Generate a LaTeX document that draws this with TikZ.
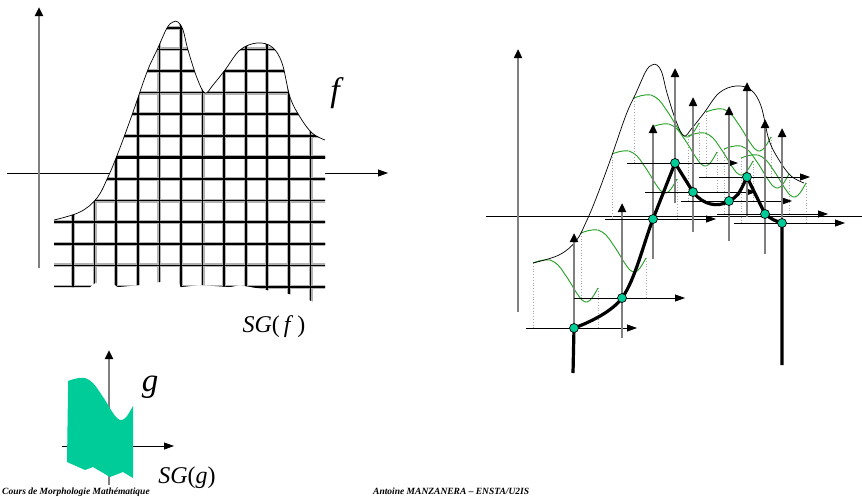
\documentclass[tikz,border=0pt]{standalone}
\usepackage{fontspec}
\setmainfont{Liberation Serif}
\usetikzlibrary{arrows.meta}
\definecolor{sgteal}{RGB}{0,204,153}
\definecolor{sggreen}{RGB}{34,160,34}
\definecolor{axisgray}{RGB}{128,128,128}

% the function f and the top of the structuring function g
\newcommand\fgraph{plot[smooth,tension=0.6] coordinates {(54,220) (80,212) (97,198) (108,177) (118,153) (132,115) (147,72) (157,50) (167,28) (173,22) (178,22) (183,30) (188,50) (197,78) (205,93) (213,85) (225,70) (240,50) (257,43) (272,47) (282,63) (290,97) (300,117) (312,133) (325,140)}}
\newcommand\gtop{plot[smooth,tension=0.6] coordinates {(-41,-65) (-33,-67.5) (-24,-68) (-16,-63) (-10,-55) (-4,-46) (2,-36) (8,-28) (13,-26) (18,-30) (24,-40)}}

\tikzset{
  sgbottom/.style={insert path={-- (325,307) -- (300,296) -- (267,290) -- (240,285) -- (230,287) -- (200,285) -- (181,287) -- (178,281) -- (160,282) -- (140,285) -- (118,287) -- (115,285) -- (95,283) -- (90,287) -- (54,287) -- cycle}},
  plainaxis/.style={black,line width=0.8pt,-{Triangle[length=10pt,width=7pt]}},
  grayaxis/.style={axisgray,line width=2.4pt,-{Triangle[length=9pt,width=8pt,color=black]}},
  sharrow/.style={black,line width=0.8pt,-{Triangle[length=10pt,width=7pt]}},
  gridhalo/.style={gray!60,line width=4pt},
  gridcore/.style={black,line width=1.7pt},
  fcurve/.style={black,line width=0.7pt},
  gcurve/.style={sggreen,line width=0.9pt},
  drop/.style={gray!70,line width=0.8pt,dotted},
  erode/.style={black,line width=3.2pt,line join=round},
  contact/.style={circle,draw=black,fill=sgteal,line width=0.7pt,inner sep=0pt,minimum size=9pt},
  biglabel/.style={anchor=base,font=\itshape\fontsize{34}{34}\selectfont},
  sglabel/.style={anchor=base,inner sep=0pt,font=\fontsize{24}{24}\selectfont},
  footer/.style={anchor=base west,inner sep=0pt,font=\bfseries\itshape\fontsize{9.5}{9.5}\selectfont}
}

\begin{document}
\begin{tikzpicture}[x=1pt,y=-1pt]
\useasboundingbox (0,0) rectangle (862,496);
\clip (0,0) rectangle (862,496);

% f and SG(f)
\draw[plainaxis] (7,173) -- (388,173);
\draw[grayaxis] (39,268) -- (39,7);
\fill[white] \fgraph [sgbottom];
\begin{scope}
\clip \fgraph [sgbottom];
\foreach \i in {0,...,11} \draw[gridhalo] ({73+21.6*\i},10) -- ({73+21.6*\i},320);
\foreach \i in {0,...,12} \draw[gridhalo] (40,{287-21.6*\i}) -- (340,{287-21.6*\i});
\foreach \i in {0,...,11} \draw[gridcore] ({73+21.6*\i},10) -- ({73+21.6*\i},320);
\foreach \i in {0,...,12} \draw[gridcore] (40,{287-21.6*\i}) -- (340,{287-21.6*\i});
\draw[black,line width=2.4pt] (181,10) -- (181,320) (267,10) -- (267,320);
\draw[black,line width=2.4pt] (40,157.4) -- (340,157.4) (40,243.8) -- (340,243.8);
\end{scope}
\draw[fcurve] \fgraph;
\node[biglabel] (flabel) at (335,101) {f};
\node[sglabel] (sgf) at (274,332) {\textit{SG}(\,\textit{f}\,)};

% g and SG(g)
\draw[plainaxis] (62,446) -- (174,446);
\draw[grayaxis] (109,485) -- (109,350);
\fill[sgteal,shift={(109,446)}] \gtop -- (24,32) -- (14,26) -- (1,31) -- (-16,21) -- (-24,24) -- (-42,16) -- (-41,-55) -- cycle;
\node[biglabel,font=\itshape\fontsize{33}{33}\selectfont] (glabel) at (150,391) {g};
\node[sglabel] (sgg) at (187,483) {\textit{SG}(\textit{g})};

% erosion of f by g
\draw[black,line width=0.8pt] (486,216) -- (862,216);
\draw[grayaxis] (518,312) -- (518,49);
\foreach \x/\y in {574/328,622/298,653/219,675/163,693/192,729/201,747/177,765/214,782/223}{
  \begin{scope}[shift={(\x,\y)}]
    \draw[drop] (-41,-65) -- (-41,0);
    \draw[drop] (24,-40) -- (24,0);
    \draw[gcurve] \gtop;
  \end{scope}
}
\begin{scope}[shift={(479,43)}]
\draw[fcurve] \fgraph;
\end{scope}
\foreach \x/\y in {574/328,622/298,653/219,675/163,693/192,729/201,747/177,765/214,782/223}{
  \draw[grayaxis] (\x,\y+40) -- (\x,\y-95);
  \draw[sharrow] (\x-48,\y) -- (\x+63,\y);
}
\foreach \x/\y [count=\k] in {574/328,622/298,653/219,675/163,693/192,729/201,747/177,765/214,782/223}
  \coordinate (d\k) at (\x,\y);
\coordinate (t1) at (573,373);
\coordinate (t9) at (782,365);
\draw[erode] (t1) -- (d1) plot[smooth,tension=0.6] coordinates {(d1) (d2) (d3) (d4)}
  -- (d5) .. controls (703,205) and (718,208) .. (d6) .. controls (738,196) .. (d7)
  -- (d8) .. controls (773,220) .. (d9) -- (t9);
\foreach \k in {1,...,9} \node[contact] (c\k) at (d\k) {};

% footer
\node[footer] (course) at (2,494) {Cours de Morphologie Mathématique};
\node[footer] (author) at (373,494) {Antoine MANZANERA – ENSTA/U2IS};
\end{tikzpicture}
\end{document}
